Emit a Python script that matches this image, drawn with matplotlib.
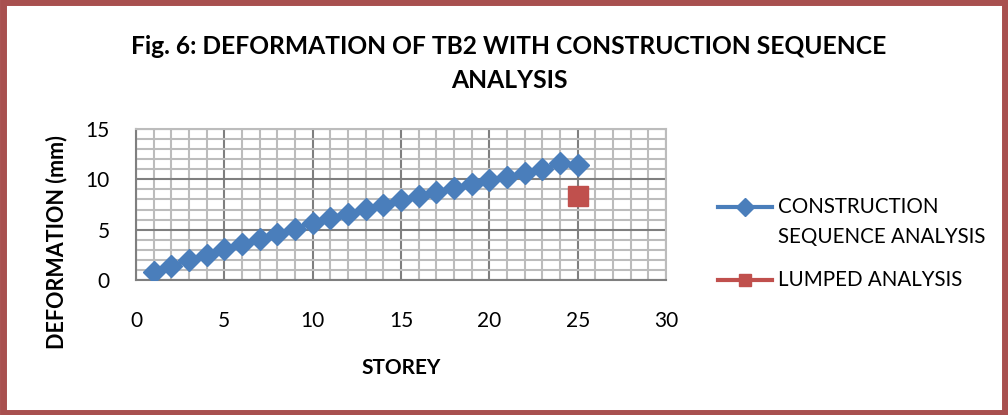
import numpy as np
import matplotlib.pyplot as plt
from matplotlib.lines import Line2D
from matplotlib.patches import Rectangle
from matplotlib.ticker import MultipleLocator

plt.rcParams['font.family'] = ['Lato', 'DejaVu Sans']

storey = np.arange(1, 26)
construction = [0.8, 1.4, 2.0, 2.5, 3.1, 3.6, 4.1, 4.6, 5.1, 5.7,
                6.2, 6.6, 7.1, 7.5, 7.9, 8.3, 8.7, 9.1, 9.5, 9.9,
                10.2, 10.6, 11.0, 11.6, 11.4]
lumped_x = [25]
lumped_y = [8.3]

BLUE = '#4a7ebb'
RED = '#c0504d'

W, H = 1008, 415
fig = plt.figure(figsize=(W / 100, H / 100), dpi=100)
ax = fig.add_axes([136 / W, 1 - 280 / H, 530 / W, 151 / H])

ax.plot(storey, construction, color=BLUE, lw=3, marker='D', ms=11, zorder=3)
ax.plot(lumped_x, lumped_y, color=RED, lw=3, marker='s', ms=14, zorder=3)

ax.set_xlim(0, 30)
ax.set_ylim(0, 15)
ax.xaxis.set_major_locator(MultipleLocator(5))
ax.yaxis.set_major_locator(MultipleLocator(5))
ax.xaxis.set_minor_locator(MultipleLocator(1))
ax.yaxis.set_minor_locator(MultipleLocator(1))
ax.grid(which='minor', color='#bcbcbc', lw=1.5)
ax.grid(which='major', color='#7f7f7f', lw=1.5)
ax.set_axisbelow(True)
for s in ax.spines.values():
    s.set_color('#bcbcbc')
    s.set_linewidth(1.5)
ax.spines['left'].set_color('#7f7f7f')
ax.spines['bottom'].set_color('#7f7f7f')
ax.tick_params(which='both', length=0, labelsize=15)
ax.tick_params(axis='x', pad=22)
ax.tick_params(axis='y', pad=19)

# axis titles placed where the reference has them
fig.text(401 / W, 1 - 368 / H, 'STOREY', ha='center', va='center',
         fontsize=15, fontweight='bold')
fig.text(57 / W, 1 - 242 / H, 'DEFORMATION (mm)', ha='center', va='center',
         rotation=90, fontsize=15.5, fontweight='bold')

fig.text(509 / W, 1 - 47 / H, 'Fig. 6: DEFORMATION OF TB2 WITH CONSTRUCTION SEQUENCE',
         ha='center', va='center', fontsize=17.7, fontweight='bold')
fig.text(509 / W, 1 - 80 / H, 'ANALYSIS', ha='center', va='center',
         fontsize=17.7, fontweight='bold')

# legend drawn by hand so the handle sits on the first label line (Excel style)
legend_items = [
    (BLUE, 'D', 9.5, 1 - 207 / H, ['CONSTRUCTION', 'SEQUENCE ANALYSIS']),
    (RED, 's', 9, 1 - 280 / H, ['LUMPED ANALYSIS']),
]
for color, mk, size, y, lines in legend_items:
    fig.add_artist(Line2D([718 / W, 772 / W], [y, y], transform=fig.transFigure,
                          color=color, lw=3))
    fig.add_artist(Line2D([745 / W], [y], transform=fig.transFigure,
                          color=color, marker=mk, ms=size, lw=0))
    for i, txt in enumerate(lines):
        fig.text(778 / W, y - i * 30 / H, txt, ha='left', va='center', fontsize=14.8)

fig.patches.append(Rectangle((0.003, 0.005), 0.994, 0.99, transform=fig.transFigure,
                             fill=False, edgecolor='#a8504f', lw=5))

fig.savefig('out.png', dpi=100)
